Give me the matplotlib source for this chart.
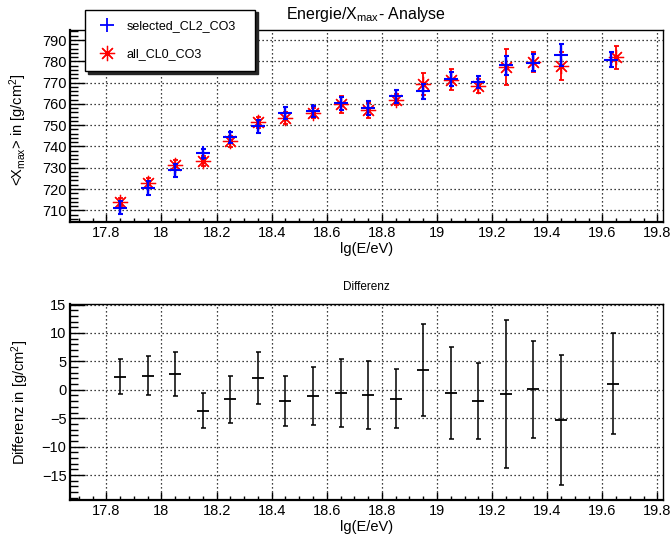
import matplotlib
matplotlib.use("Agg")
import matplotlib.pyplot as plt
from matplotlib.lines import Line2D
from matplotlib.ticker import MultipleLocator

plt.rcParams['font.family'] = ['Liberation Sans', 'DejaVu Sans']
plt.rcParams['mathtext.default'] = 'regular'

# ---- data ----
lgE = [17.85, 17.95, 18.05, 18.15, 18.25, 18.35, 18.45, 18.55, 18.65,
       18.75, 18.85, 18.95, 19.05, 19.15, 19.25, 19.35, 19.45, 19.63]
lgE_all = [17.85, 17.95, 18.05, 18.15, 18.25, 18.35, 18.45, 18.55, 18.65,
           18.75, 18.85, 18.95, 19.05, 19.15, 19.25, 19.35, 19.45, 19.65]
xmax_sel = [711.3, 720.3, 728.7, 736.7, 744.2, 749.4, 755.7, 756.6, 760.3,
            758.0, 763.5, 765.9, 771.9, 770.3, 778.2, 779.4, 783.1, 780.8]
xmax_sel_err = [2.9, 3.3, 3.1, 2.3, 2.5, 3.0, 2.8, 2.6, 3.0,
                3.2, 3.1, 3.5, 3.3, 3.0, 4.5, 3.9, 5.2, 3.7]
xmax_all = [713.9, 723.0, 731.4, 733.1, 742.4, 751.4, 753.5, 755.7, 759.8,
            756.9, 761.9, 769.4, 771.3, 768.4, 777.5, 779.5, 777.8, 781.9]
xmax_all_err = [2.0, 2.3, 2.4, 2.4, 2.5, 2.6, 2.8, 2.5, 4.0,
                3.5, 2.6, 5.2, 5.0, 3.3, 8.5, 4.7, 6.6, 5.3]

lgE_diff = [17.85, 17.95, 18.05, 18.15, 18.25, 18.35, 18.45, 18.55, 18.65,
            18.75, 18.85, 18.95, 19.05, 19.15, 19.25, 19.35, 19.45, 19.64]
diff = [2.3, 2.5, 2.8, -3.7, -1.65, 2.1, -1.95, -1.1, -0.6,
        -0.95, -1.6, 3.4, -0.6, -1.95, -0.7, 0.1, -5.3, 1.05]
diff_err = [3.1, 3.5, 3.9, 3.1, 4.15, 4.6, 4.35, 5.1, 6.0,
            6.0, 5.2, 8.1, 8.15, 6.65, 13.05, 8.5, 11.5, 8.9]

labels = ['selected_CL2_CO3', 'all_CL0_CO3']

W, H = 670, 540
fig = plt.figure(figsize=(W / 100, H / 100), dpi=100)

def fx(px):
    return px / W

def fy(py):
    return 1 - py / H

ax1 = fig.add_axes([fx(70), fy(222), fx(663) - fx(70), fy(30) - fy(222)])
ax2 = fig.add_axes([fx(70), fy(500), fx(663) - fx(70), fy(304) - fy(500)])

grid_kw = dict(color='black', linestyle=(0, (1, 2.2)), linewidth=0.9)

def style(ax, ymaj, ymin):
    ax.set_xlim(17.668, 19.82)
    ax.xaxis.set_major_locator(MultipleLocator(0.2))
    ax.xaxis.set_minor_locator(MultipleLocator(0.05))
    ax.yaxis.set_major_locator(MultipleLocator(ymaj))
    ax.yaxis.set_minor_locator(MultipleLocator(ymin))
    ax.tick_params(axis='x', which='major', direction='in', length=5.8, width=1.0,
                   labelsize=10.5, pad=3, top=False)
    ax.tick_params(axis='x', which='minor', direction='in', length=2.9, width=1.0, top=False)
    ax.tick_params(axis='y', which='major', direction='in', length=10.8, width=1.0,
                   labelsize=10.5, pad=2.5, right=False)
    ax.tick_params(axis='y', which='minor', direction='in', length=5.4, width=1.0, right=False)
    ax.grid(True, which='major', **grid_kw)
    ax.set_axisbelow(True)
    for s in ['left', 'bottom']:
        ax.spines[s].set_linewidth(1.6)
    for s in ['top', 'right']:
        ax.spines[s].set_linewidth(1.0)
    ax.xaxis.set_major_formatter(matplotlib.ticker.FuncFormatter(
        lambda v, p: ('%g' % round(v, 2))))
    ax.yaxis.set_major_formatter(matplotlib.ticker.FuncFormatter(
        lambda v, p: ('%g' % round(v, 2)).replace('-', '\u2212')))

style(ax1, 10, 2)
ax1.set_ylim(704.5, 794.7)

ax1.errorbar(lgE_all, xmax_all, yerr=xmax_all_err, fmt='none', ecolor='red',
             elinewidth=1.3, capsize=1.8, capthick=1.3, zorder=3)
ax1.plot(lgE_all, xmax_all, linestyle='none', marker=(8, 2, 0), markersize=11,
         markeredgewidth=0.9, color='red', zorder=3)
ax1.errorbar(lgE, xmax_sel, yerr=xmax_sel_err, fmt='none', ecolor='blue',
             elinewidth=1.7, capsize=1.8, capthick=1.5, zorder=4)
ax1.plot(lgE, xmax_sel, linestyle='none', marker='+', markersize=9.5,
         markeredgewidth=1.5, color='blue', zorder=4)

ax1.set_xlabel('lg(E/eV)', fontsize=10.5)
ax1.xaxis.set_label_coords(0.5, -(249 - 222) / 192)
ax1.xaxis.label.set_va('center')
ax1.set_ylabel(r'<X$_{max}$> in [g/cm$^{2}$]', fontsize=10.5)
ax1.yaxis.set_label_coords((18 - 70) / 593, 0.48)
ax1.yaxis.label.set_va('center')

handles = [Line2D([], [], linestyle='none', marker='+', markersize=9.5,
                  markeredgewidth=1.3, color='blue'),
           Line2D([], [], linestyle='none', marker=(8, 2, 0), markersize=11,
                  markeredgewidth=0.9, color='red')]
leg = fig.legend(handles, labels, loc='upper left',
                 bbox_to_anchor=(fx(85), fy(15), fx(170), 0.01),
                 bbox_transform=fig.transFigure, mode='expand', borderaxespad=0,
                 fontsize=9, frameon=True, fancybox=False,
                 shadow={'color': '0.15', 'alpha': 1},
                 borderpad=0.85, labelspacing=1.3, handlelength=1.8,
                 handletextpad=0.7)
leg.get_frame().set_edgecolor('black')
leg.get_frame().set_linewidth(1.0)
leg.set_zorder(10)

fig.text(fx(366), fy(14), r'Energie/X$_{max}$- Analyse', ha='center', va='center',
         fontsize=11.5)

style(ax2, 5, 1)
ax2.set_ylim(-19.4, 15.1)
ax2.errorbar(lgE_diff, diff, yerr=diff_err, fmt='none', ecolor='black',
             elinewidth=1.1, capsize=1.8, capthick=1.1, zorder=3)
ax2.plot(lgE_diff, diff, linestyle='none', marker='_', markersize=8,
         markeredgewidth=1.3, color='black', zorder=3)
ax2.set_xlabel('lg(E/eV)', fontsize=10.5)
ax2.xaxis.set_label_coords(0.5, -(527 - 500) / 196)
ax2.xaxis.label.set_va('center')
ax2.set_ylabel(r'Differenz in [g/cm$^{2}$]', fontsize=10.5)
ax2.yaxis.set_label_coords((20 - 70) / 593, 0.5)
ax2.yaxis.label.set_va('center')
fig.text(fx(366), fy(287), 'Differenz', ha='center', va='center', fontsize=8.5)

fig.savefig('out.png', dpi=100)
